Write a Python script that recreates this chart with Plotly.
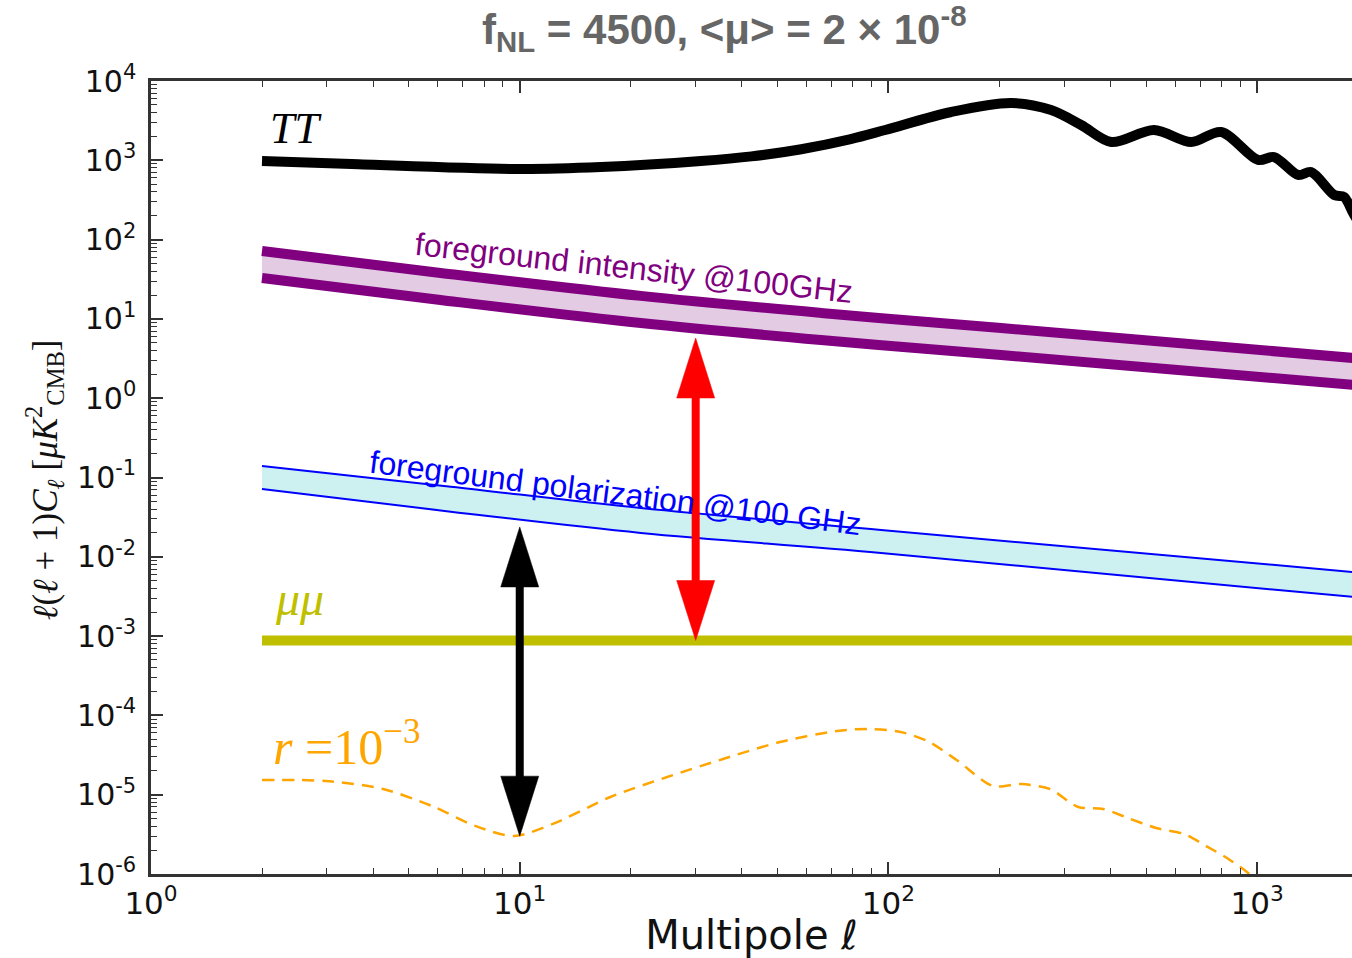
import numpy as np
import plotly.graph_objects as go

# ---------------- data ----------------
tt_ell = [2, 3.5, 10, 16.6, 31, 42.5, 58, 79, 98, 148, 215, 276, 333, 402, 525, 662, 798,
          1005, 1111, 1291, 1400, 1618, 1721, 1820, 1970]
tt_val = [980, 898, 776, 822, 980, 1120, 1380, 1850, 2410, 4065, 5280, 4300, 2790, 1700, 2410,
          1700, 2275, 1010, 1100, 653, 711, 365, 344, 216, 115]

int_ell = [2, 6.1, 21.3, 65.6, 202, 2000]
int_up = [71.8, 38.0, 19.5, 11.9, 7.67, 3.1]
int_lo = [32.8, 17.3, 8.87, 5.42, 3.51, 1.42]

pol_ell = [2, 6.5, 21.3, 95.5, 2000]
pol_up = [0.1397, 0.0766, 0.0412, 0.0218, 0.00618]
pol_lo = [0.0716, 0.0371, 0.020, 0.0112, 0.00299]

mu_ell = [2, 2000]
mu_val = [8.8e-4, 8.8e-4]

r_ell = [2.0, 2.98, 4.26, 5.78, 7.57, 9.65, 12.3, 17.6, 25.1, 35.6, 50.8, 72.5, 88.5,
         108, 129, 153, 192, 229, 274, 327, 382, 446, 532, 634, 727, 828, 945, 1025]
r_val = [1.53e-5, 1.49e-5, 1.18e-5, 7.2e-6, 4.04e-6, 3.02e-6, 4.28e-6, 9.35e-6,
         1.67e-5, 2.82e-5, 4.62e-5, 6.36e-5, 6.75e-5, 6.18e-5, 4.62e-5, 2.74e-5,
         1.29e-5, 1.36e-5, 1.18e-5, 7.0e-6, 6.6e-6, 5.08e-6, 3.80e-6, 3.19e-6,
         2.25e-6, 1.59e-6, 1.03e-6, 7.2e-7]

arrow_ell = [10, 30]
arrow_top = [0.0238, 5.74]
arrow_bot = [3.0e-6, 8.8e-4]
arrow_col = ["#000000", "#ff0000"]

x_tickvals = [1, 10, 100, 1000]
x_ticktext = ["10<sup>0</sup>", "10<sup>1</sup>", "10<sup>2</sup>", "10<sup>3</sup>"]
y_exps = list(range(-6, 5))
y_tickvals = [10.0 ** e for e in y_exps]
y_ticktext = ["10<sup>%d</sup>" % e for e in y_exps]

# ---------------- layout constants ----------------
W, H = 1352, 958
ML, MR, MT, MB = 151, 0, 81, 84
XR = [0, 3.257]
YR = [-6, 4]
pw, ph = W - ML - MR, H - MT - MB
xpx = pw / (XR[1] - XR[0])
ypx = ph / (YR[1] - YR[0])

fig = go.Figure()

# intensity band
fig.add_trace(go.Scatter(x=int_ell, y=int_up, mode="lines", line=dict(width=0, shape="spline"),
                         hoverinfo="skip"))
fig.add_trace(go.Scatter(x=int_ell, y=int_lo, mode="lines", line=dict(width=0, shape="spline"),
                         fill="tonexty", fillcolor="#e3cbe3", hoverinfo="skip"))
fig.add_trace(go.Scatter(x=int_ell, y=int_up, mode="lines",
                         line=dict(color="#800080", width=10, shape="spline")))
fig.add_trace(go.Scatter(x=int_ell, y=int_lo, mode="lines",
                         line=dict(color="#800080", width=10, shape="spline")))

# polarization band
fig.add_trace(go.Scatter(x=pol_ell, y=pol_up, mode="lines", line=dict(width=0, shape="spline"),
                         hoverinfo="skip"))
fig.add_trace(go.Scatter(x=pol_ell, y=pol_lo, mode="lines", line=dict(width=0, shape="spline"),
                         fill="tonexty", fillcolor="#cdf1f1", hoverinfo="skip"))
fig.add_trace(go.Scatter(x=pol_ell, y=pol_up, mode="lines",
                         line=dict(color="#0000ff", width=2, shape="spline")))
fig.add_trace(go.Scatter(x=pol_ell, y=pol_lo, mode="lines",
                         line=dict(color="#0000ff", width=2, shape="spline")))

# mu mu
fig.add_trace(go.Scatter(x=mu_ell, y=mu_val, mode="lines",
                         line=dict(color="#bfbf00", width=10)))

# r = 1e-3
fig.add_trace(go.Scatter(x=r_ell, y=r_val, mode="lines",
                         line=dict(color="#ffa500", width=2.5, dash="12px,8px", shape="spline",
                                   smoothing=0.8)))

# TT
fig.add_trace(go.Scatter(x=tt_ell, y=tt_val, mode="lines",
                         line=dict(color="#000000", width=10, shape="spline", smoothing=0.9)))

# arrows
hl = 60.0 / ypx
hw = 19.0 / xpx
for ell, vt, vb, col in zip(arrow_ell, arrow_top, arrow_bot, arrow_col):
    lx, lt, lb = np.log10(ell), np.log10(vt), np.log10(vb)
    fig.add_trace(go.Scatter(x=[ell, ell], y=[10 ** (lt - hl * 0.8), 10 ** (lb + hl * 0.8)],
                             mode="lines", line=dict(color=col, width=8)))
    xl, xr = 10 ** (lx - hw), 10 ** (lx + hw)
    fig.add_trace(go.Scatter(x=[xl, xr, ell, xl], y=[10 ** (lt - hl)] * 2 + [vt, 10 ** (lt - hl)],
                             mode="lines", fill="toself", fillcolor=col,
                             line=dict(color=col, width=0.5)))
    fig.add_trace(go.Scatter(x=[xl, xr, ell, xl], y=[10 ** (lb + hl)] * 2 + [vb, 10 ** (lb + hl)],
                             mode="lines", fill="toself", fillcolor=col,
                             line=dict(color=col, width=0.5)))

x_minor = [m * 10 ** k for k in range(0, 4) for m in range(2, 10)]
y_minor = [m * 10.0 ** k for k in range(-6, 4) for m in range(2, 10)]

axcol = "#333333"
fig.update_layout(
    width=W, height=H,
    margin=dict(l=ML, r=MR, t=MT, b=MB),
    paper_bgcolor="white", plot_bgcolor="white",
    showlegend=False,
    xaxis=dict(type="log", range=XR, showgrid=False, zeroline=False,
               showline=True, linecolor=axcol, linewidth=2.5, mirror="allticks",
               ticks="inside", ticklen=12, tickwidth=1.5, tickcolor=axcol,
               tickmode="array", tickvals=x_tickvals, ticktext=x_ticktext,
               tickfont=dict(family="DejaVu Sans", size=31, color="#111111"),
               minor=dict(ticks="inside", ticklen=6, tickwidth=1.2, tickcolor=axcol,
                          tickmode="array", tickvals=x_minor, showgrid=False),
               title=dict(text="Multipole <i>ℓ</i>", standoff=6,
                          font=dict(family="DejaVu Sans", size=40, color="#111111"))),
    yaxis=dict(type="log", range=YR, showgrid=False, zeroline=False,
               showline=True, linecolor=axcol, linewidth=2.5, mirror=False,
               ticks="inside", ticklen=12, tickwidth=1.5, tickcolor=axcol,
               tickmode="array", tickvals=y_tickvals, ticktext=y_ticktext,
               ticklabelstandoff=6,
               tickfont=dict(family="DejaVu Sans", size=30, color="#111111"),
               minor=dict(ticks="inside", ticklen=6, tickwidth=1.2, tickcolor=axcol,
                          tickmode="array", tickvals=y_minor, showgrid=False)),
)

ann = []
ann.append(dict(text="<b>f<sub>NL</sub> = 4500, &lt;μ&gt; = 2 × 10<sup>-8</sup></b>",
                xref="paper", yref="paper", x=(724 - ML) / pw, y=(H - MB - 29) / ph,
                xanchor="center", yanchor="middle", showarrow=False,
                font=dict(family="Liberation Sans", size=42, color="#666666")))
ann.append(dict(text="<i>ℓ</i>(<i>ℓ</i> + 1)<i>C<sub>ℓ</sub></i> [<i>μK</i><sup>2</sup><sub>CMB</sub>]",
                xref="paper", yref="paper", x=(44 - ML) / pw, y=(H - MB - 480) / ph,
                xanchor="center", yanchor="middle", showarrow=False, textangle=-90,
                font=dict(family="Liberation Serif", size=35, color="#111111")))
ann.append(dict(text="<i>TT</i>", x=np.log10(2.47), y=np.log10(2550), showarrow=False,
                font=dict(family="Liberation Serif", size=44, color="#000000")))
ann.append(dict(text="<i>μμ</i>", x=np.log10(2.52), y=np.log10(3.0e-3), showarrow=False,
                font=dict(family="Liberation Serif", size=48, color="#bfbf00")))
ann.append(dict(text="<i>r</i> =10<sup>−3</sup>", x=np.log10(3.4), y=np.log10(4.4e-5),
                showarrow=False,
                font=dict(family="Liberation Serif", size=50, color="#ffa500")))
ann.append(dict(text="foreground intensity @100GHz", x=np.log10(20.4), y=np.log10(43.9),
                showarrow=False, textangle=6.3,
                font=dict(family="Liberation Sans", size=32, color="#800080")))
ann.append(dict(text="foreground polarization @100 GHz", x=np.log10(18.2), y=np.log10(0.0637),
                showarrow=False, textangle=7.3,
                font=dict(family="Liberation Sans", size=32, color="#0000ff")))
fig.update_layout(annotations=ann)

fig.write_html("out.html")
